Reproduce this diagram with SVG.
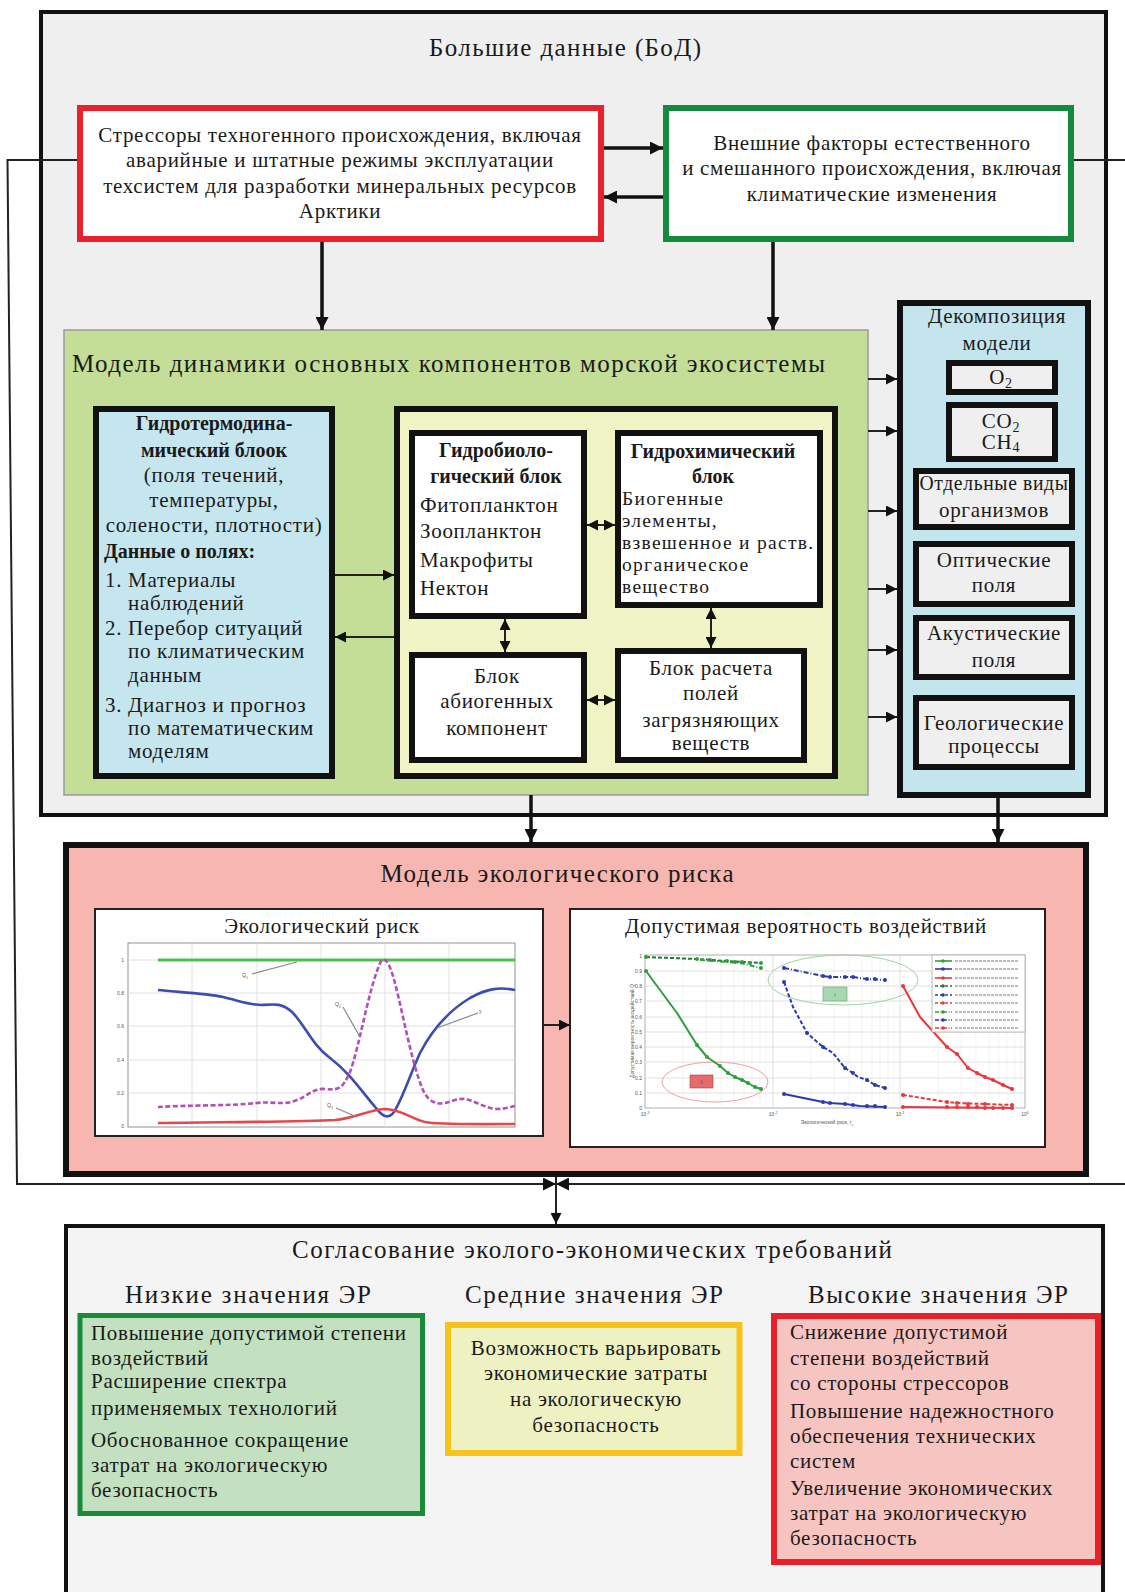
<svg xmlns="http://www.w3.org/2000/svg" width="1125" height="1592" viewBox="0 0 1125 1592">
<defs>
<style>
.t{font-family:"Liberation Serif","Times New Roman",serif;fill:#1a1a1a}
.s20{font-size:20px}.n{font-size:21px;letter-spacing:0.7px}.h{font-size:25px}
.c{font-size:19.5px;letter-spacing:1.3px}
.b{font-weight:bold}.m{text-anchor:middle}
.ln{stroke:#111;fill:none;stroke-width:3.5}
.thin{stroke:#222;fill:none;stroke-width:2}
.tiny{font-family:"Liberation Sans",Arial,sans-serif;font-size:5px;fill:#555}
.grid{stroke:#d8d8d8;stroke-width:0.8;fill:none}
.mgrid{stroke:#ececec;stroke-width:0.6;fill:none}
</style>
<marker id="ah" markerUnits="userSpaceOnUse" viewBox="0 0 12 12" refX="12" refY="6" markerWidth="13" markerHeight="13" orient="auto-start-reverse"><path d="M0,0 L12,6 L0,12 z" fill="#111"/></marker>
<marker id="ahs" markerUnits="userSpaceOnUse" viewBox="0 0 12 12" refX="12" refY="6" markerWidth="11" markerHeight="11" orient="auto-start-reverse"><path d="M0,0 L12,6 L0,12 z" fill="#111"/></marker>
</defs>

<g id="big-data">
<rect x="41" y="12" width="1065" height="803" fill="#efefef" stroke="#111" stroke-width="4"/>
<text class="t h m" x="565" y="56" textLength="272" lengthAdjust="spacing">Большие данные (БоД)</text>
</g>

<g id="stressors">
<rect x="80" y="108" width="521" height="131" fill="#fff" stroke="#e8212b" stroke-width="6"/>
<text class="t n m" x="340" y="142">Стрессоры техногенного происхождения, включая</text>
<text class="t n m" x="340" y="167">аварийные и штатные режимы эксплуатации</text>
<text class="t n m" x="340" y="193">техсистем для разработки минеральных ресурсов</text>
<text class="t n m" x="340" y="218">Арктики</text>
</g>

<g id="external">
<rect x="666" y="108" width="405" height="131" fill="#fff" stroke="#138a3c" stroke-width="6"/>
<text class="t n m" x="872" y="150">Внешние факторы естественного</text>
<text class="t n m" x="872" y="175">и смешанного происхождения, включая</text>
<text class="t n m" x="872" y="201">климатические изменения</text>
</g>

<g id="dynamics-model">
<rect x="64" y="330" width="804" height="465" fill="#c4de98" stroke="#9a9a9a" stroke-width="1.5"/>
<text class="t h" x="72" y="372" textLength="753" lengthAdjust="spacing">Модель динамики основных компонентов морской экосистемы</text>
</g>

<g id="hydrothermo">
<rect x="96" y="409" width="236" height="367" fill="#c5e6ef" stroke="#111" stroke-width="6"/>
<text class="t s20 b m" x="214" y="430">Гидротермодина-</text>
<text class="t s20 b m" x="214" y="457">мический блоок</text>
<text class="t n m" x="214" y="482">(поля течений,</text>
<text class="t n m" x="214" y="507">температуры,</text>
<text class="t n m" x="214" y="532">солености, плотности)</text>
<text class="t s20 b" x="104" y="558">Данные о полях:</text>
<text class="t n" x="105" y="587">1. Материалы</text>
<text class="t n" x="128" y="610">наблюдений</text>
<text class="t n" x="105" y="635">2. Перебор ситуаций</text>
<text class="t n" x="128" y="658">по климатическим</text>
<text class="t n" x="128" y="682">данным</text>
<text class="t n" x="105" y="712">3. Диагноз и прогноз</text>
<text class="t n" x="128" y="735">по математическим</text>
<text class="t n" x="128" y="758">моделям</text>
</g>

<g id="bio-chem-frame">
<rect x="397" y="409" width="438" height="367" fill="#f0f4c4" stroke="#111" stroke-width="6"/>
</g>

<g id="hydrobio">
<rect x="412" y="433" width="172" height="183" fill="#fff" stroke="#111" stroke-width="6"/>
<text class="t s20 b m" x="496" y="457">Гидробиоло-</text>
<text class="t s20 b m" x="496" y="483">гический блок</text>
<text class="t n" x="420" y="512">Фитопланктон</text>
<text class="t n" x="420" y="538">Зоопланктон</text>
<text class="t n" x="420" y="567">Макрофиты</text>
<text class="t n" x="420" y="595">Нектон</text>
</g>

<g id="hydrochem">
<rect x="618" y="433" width="202" height="172" fill="#fff" stroke="#111" stroke-width="6"/>
<text class="t s20 b m" x="713" y="458">Гидрохимический</text>
<text class="t s20 b m" x="713" y="483">блок</text>
<text class="t c" x="622" y="505">Биогенные</text>
<text class="t c" x="622" y="527">элементы,</text>
<text class="t c" x="622" y="549">взвешенное и раств.</text>
<text class="t c" x="622" y="571">органическое</text>
<text class="t c" x="622" y="593">вещество</text>
</g>

<g id="abiogenic">
<rect x="412" y="655" width="172" height="105" fill="#fff" stroke="#111" stroke-width="6"/>
<text class="t n m" x="497" y="683">Блок</text>
<text class="t n m" x="497" y="708">абиогенных</text>
<text class="t n m" x="497" y="735">компонент</text>
</g>

<g id="pollutants">
<rect x="618" y="651" width="186" height="109" fill="#fff" stroke="#111" stroke-width="6"/>
<text class="t n m" x="711" y="675">Блок расчета</text>
<text class="t n m" x="711" y="700">полей</text>
<text class="t n m" x="711" y="727">загрязняющих</text>
<text class="t n m" x="711" y="750">веществ</text>
</g>

<g id="decomposition">
<rect x="900" y="303" width="188" height="492" fill="#c4e5ee" stroke="#111" stroke-width="6"/>
<text class="t n m" x="997" y="323">Декомпозиция</text>
<text class="t n m" x="997" y="350">модели</text>
</g>
<g id="o2">
<rect x="949" y="363" width="106" height="29" fill="#efefef" stroke="#111" stroke-width="6"/>
<text class="t n m" x="1001" y="384">O<tspan font-size="14" dy="4">2</tspan></text>
</g>
<g id="co2-ch4">
<rect x="949" y="405" width="106" height="54" fill="#efefef" stroke="#111" stroke-width="6"/>
<text class="t n m" x="1001" y="428">CO<tspan font-size="14" dy="4">2</tspan></text>
<text class="t n m" x="1001" y="449">CH<tspan font-size="14" dy="3">4</tspan></text>
</g>
<g id="organisms">
<rect x="916" y="471" width="156" height="56" fill="#efefef" stroke="#111" stroke-width="6"/>
<text class="t n m" x="994" y="490" textLength="149" lengthAdjust="spacingAndGlyphs">Отдельные виды</text>
<text class="t n m" x="994" y="517">организмов</text>
</g>
<g id="optical">
<rect x="916" y="544" width="156" height="60" fill="#efefef" stroke="#111" stroke-width="6"/>
<text class="t n m" x="994" y="567">Оптические</text>
<text class="t n m" x="994" y="592">поля</text>
</g>
<g id="acoustic">
<rect x="916" y="618" width="156" height="59" fill="#efefef" stroke="#111" stroke-width="6"/>
<text class="t n m" x="994" y="640">Акустические</text>
<text class="t n m" x="994" y="667">поля</text>
</g>
<g id="geological">
<rect x="916" y="698" width="156" height="69" fill="#efefef" stroke="#111" stroke-width="6"/>
<text class="t n m" x="994" y="730">Геологические</text>
<text class="t n m" x="994" y="753">процессы</text>
</g>

<g id="risk-model">
<rect x="66" y="845" width="1020" height="329" fill="#f7b7b0" stroke="#111" stroke-width="6"/>
<text class="t h m" x="557" y="882" textLength="353" lengthAdjust="spacing">Модель экологического риска</text>
</g>

<g id="eco-risk-chart">
<rect x="95" y="909" width="448" height="227" fill="#fff" stroke="#222" stroke-width="2"/>
<text class="t n m" x="322" y="933">Экологический риск</text>
<rect x="128" y="943" width="387" height="184" fill="#fff" stroke="#777" stroke-width="0.8"/>
<path class="grid" d="M192,943V1127M257,943V1127M321,943V1127M385,943V1127M449,943V1127M128,960H515M128,993H515M128,1026H515M128,1060H515M128,1093H515"/>
<text class="tiny" x="124" y="962" text-anchor="end">1</text>
<text class="tiny" x="124" y="995" text-anchor="end">0.8</text>
<text class="tiny" x="124" y="1028" text-anchor="end">0.6</text>
<text class="tiny" x="124" y="1062" text-anchor="end">0.4</text>
<text class="tiny" x="124" y="1095" text-anchor="end">0.2</text>
<text class="tiny" x="124" y="1128" text-anchor="end">0</text>
<polyline points="158,960 515,960" fill="none" stroke="#4dbf4d" stroke-width="3"/>
<path d="M158,990 C175,992 205,993 223,997 C240,1001 250,1005 262,1005 C275,1004 282,1003 292,1012 C305,1025 312,1045 330,1058 C350,1073 362,1092 376,1108 C382,1116 388,1120 394,1112 C402,1100 410,1075 420,1053 C432,1030 450,1010 470,998 C488,988 500,987 515,990" fill="none" stroke="#3c4db0" stroke-width="2.6"/>
<path d="M158,1107 C190,1105 230,1106 257,1103 C272,1101 283,1106 297,1100 C308,1096 313,1088 325,1089 C338,1090 342,1090 350,1072 C360,1045 368,990 381,961 C385,958 387,960 391,970 C400,995 410,1060 423,1090 C430,1105 440,1106 455,1100 C470,1095 480,1108 497,1109 C505,1109 510,1107 515,1106" fill="none" stroke="#b24fb8" stroke-width="2.6" stroke-dasharray="5,2.5"/>
<path d="M158,1123 C230,1122 300,1122 335,1120 C355,1118 368,1110 385,1109 C400,1109 410,1118 425,1122 C440,1125 470,1124 515,1124" fill="none" stroke="#e8474a" stroke-width="2.6"/>
<path d="M252,974L297,962M343,1007L360,1037M478,1013L437,1028M336,1108L357,1117" stroke="#888" stroke-width="1.2" fill="none"/>
<text class="tiny" x="242" y="977">Q<tspan font-size="3.5" dy="1.5">1</tspan></text>
<text class="tiny" x="335" y="1006">Q<tspan font-size="3.5" dy="1.5">2</tspan></text>
<text class="tiny" x="479" y="1013">y</text>
<text class="tiny" x="327" y="1107">Q<tspan font-size="3.5" dy="1.5">3</tspan></text>
</g>

<g id="allowed-prob-chart">
<rect x="570" y="909" width="475" height="238" fill="#fff" stroke="#222" stroke-width="2"/>
<text class="t n m" x="806" y="933">Допустимая вероятность воздействий</text>
<rect x="645" y="955" width="380" height="153" fill="#fff" stroke="#999" stroke-width="0.8"/>
<path class="mgrid" d="M683,955V1108M706,955V1108M721,955V1108M734,955V1108M744,955V1108M752,955V1108M760,955V1108M766,955V1108M811,955V1108M834,955V1108M849,955V1108M862,955V1108M872,955V1108M880,955V1108M888,955V1108M894,955V1108M938,955V1108M961,955V1108M976,955V1108M989,955V1108M999,955V1108M1007,955V1108M1015,955V1108M1021,955V1108"/>
<path class="grid" d="M773,955V1108M900,955V1108M645,971H1025M645,986H1025M645,1001H1025M645,1017H1025M645,1032H1025M645,1047H1025M645,1062H1025M645,1078H1025M645,1093H1025"/>
<g class="tiny" text-anchor="end">
<text x="642" y="958">1</text><text x="642" y="973">0.9</text><text x="642" y="988">0.8</text><text x="642" y="1003">0.7</text><text x="642" y="1019">0.6</text><text x="642" y="1034">0.5</text><text x="642" y="1049">0.4</text><text x="642" y="1064">0.3</text><text x="642" y="1080">0.2</text><text x="642" y="1095">0.1</text><text x="642" y="1110">0</text>
</g>
<g class="tiny" text-anchor="middle">
<text x="645" y="1116">10<tspan font-size="3.5" dy="-2">-3</tspan></text>
<text x="773" y="1116">10<tspan font-size="3.5" dy="-2">-2</tspan></text>
<text x="900" y="1116">10<tspan font-size="3.5" dy="-2">-1</tspan></text>
<text x="1025" y="1116">10<tspan font-size="3.5" dy="-2">0</tspan></text>
<text x="827" y="1124">Экологический риск, r<tspan font-size="3.5" dy="1.5">э</tspan></text>
<text transform="translate(634,1031) rotate(-90)">Допустимая вероятность воздействий Q</text>
</g>
<ellipse cx="843" cy="980" rx="75" ry="25" fill="none" stroke="#9fd49f" stroke-width="1"/>
<ellipse cx="715" cy="1082" rx="53" ry="20" fill="none" stroke="#f0a0a0" stroke-width="1"/>
<rect x="823" y="987" width="24" height="14" fill="#a8d8b0" stroke="#6a9a70" stroke-width="0.6"/>
<text class="tiny" x="835" y="996.5" text-anchor="middle">I</text>
<rect x="690" y="1075" width="23" height="13" fill="#e86a6a" stroke="#a04040" stroke-width="0.6"/>
<text class="tiny" x="701.5" y="1084" text-anchor="middle">II</text>
<g fill="none" stroke-width="2" stroke-linejoin="round">
<polyline stroke="#2e9e3e" points="646,971 660,990 677,1013 697,1045 707,1057 720,1066 728,1073 735,1077 742,1080 748,1083 755,1087 761,1089"/>
<polyline stroke="#1f7a2e" stroke-dasharray="4,2" points="646,957 697,959 727,961 761,963"/>
<polyline stroke="#2e9e3e" stroke-dasharray="5,2,1,2" points="700,960 740,963 761,968"/>
<polyline stroke="#2a3caa" stroke-dasharray="4,2" points="784,982 793,1007 807,1033 823,1047 833,1053 845,1068 853,1073 858,1077 867,1080 875,1085 885,1088"/>
<polyline stroke="#2a3caa" stroke-dasharray="5,2,1,2" points="784,968 823,976 830,977 845,977 853,977 867,979 885,980"/>
<polyline stroke="#2a3caa" points="784,1094 823,1102 830,1103 845,1104 860,1106 885,1107"/>
<polyline stroke="#e8383c" points="903,986 920,1017 947,1047 957,1054 968,1068 977,1073 985,1077 993,1080 1003,1085 1012,1089"/>
<polyline stroke="#e8383c" stroke-dasharray="4,2" points="903,1095 947,1102 957,1103 1012,1105"/>
<polyline stroke="#e8383c" points="903,1107 1012,1108"/>
</g>
<g fill="#2e9e3e"><circle cx="646" cy="971" r="2"/><circle cx="697" cy="1045" r="2"/><circle cx="707" cy="1057" r="2"/><circle cx="720" cy="1066" r="2"/><circle cx="728" cy="1073" r="2"/><circle cx="735" cy="1077" r="2"/><circle cx="742" cy="1080" r="2"/><circle cx="748" cy="1083" r="2"/><circle cx="755" cy="1087" r="2"/><circle cx="761" cy="1089" r="2"/><circle cx="646" cy="957" r="2"/><circle cx="697" cy="959" r="2"/><circle cx="710" cy="960" r="2"/><circle cx="727" cy="961" r="2"/><circle cx="735" cy="962" r="2"/><circle cx="742" cy="962" r="2"/><circle cx="750" cy="963" r="2"/><circle cx="761" cy="963" r="2"/><circle cx="761" cy="968" r="2"/></g>
<g fill="#2a3caa"><circle cx="784" cy="982" r="2"/><circle cx="807" cy="1033" r="2"/><circle cx="823" cy="1047" r="2"/><circle cx="845" cy="1068" r="2"/><circle cx="853" cy="1073" r="2"/><circle cx="867" cy="1080" r="2"/><circle cx="875" cy="1085" r="2"/><circle cx="885" cy="1088" r="2"/><circle cx="784" cy="968" r="2"/><circle cx="823" cy="976" r="2"/><circle cx="830" cy="977" r="2"/><circle cx="845" cy="977" r="2"/><circle cx="853" cy="977" r="2"/><circle cx="867" cy="979" r="2"/><circle cx="875" cy="979" r="2"/><circle cx="885" cy="980" r="2"/><circle cx="784" cy="1094" r="2"/><circle cx="823" cy="1102" r="2"/><circle cx="830" cy="1103" r="2"/><circle cx="845" cy="1104" r="2"/><circle cx="853" cy="1105" r="2"/><circle cx="867" cy="1106" r="2"/><circle cx="875" cy="1106" r="2"/><circle cx="885" cy="1107" r="2"/></g>
<g fill="#e8383c"><circle cx="903" cy="986" r="2"/><circle cx="947" cy="1047" r="2"/><circle cx="957" cy="1054" r="2"/><circle cx="968" cy="1068" r="2"/><circle cx="977" cy="1073" r="2"/><circle cx="985" cy="1077" r="2"/><circle cx="993" cy="1080" r="2"/><circle cx="1003" cy="1085" r="2"/><circle cx="1012" cy="1089" r="2"/><circle cx="903" cy="1095" r="2"/><circle cx="947" cy="1102" r="2"/><circle cx="957" cy="1103" r="2"/><circle cx="968" cy="1104" r="2"/><circle cx="985" cy="1104" r="2"/><circle cx="1012" cy="1105" r="2"/><circle cx="903" cy="1107" r="2"/><circle cx="947" cy="1107" r="2"/><circle cx="957" cy="1107" r="2"/><circle cx="968" cy="1107" r="2"/><circle cx="977" cy="1107" r="2"/><circle cx="985" cy="1108" r="2"/><circle cx="993" cy="1108" r="2"/><circle cx="1003" cy="1108" r="2"/><circle cx="1012" cy="1108" r="2"/></g>
<rect x="932" y="955" width="93" height="77" fill="#fff" stroke="#aaa" stroke-width="0.8"/>
<g fill="none" stroke-width="1.6">
<path stroke="#2e9e3e" d="M935,961H952"/><path stroke="#2a3caa" d="M935,969H952"/><path stroke="#e8383c" d="M935,978H952"/>
<path stroke="#1f7a2e" stroke-dasharray="3,2" d="M935,986H952"/><path stroke="#2a3caa" stroke-dasharray="3,2" d="M935,995H952"/><path stroke="#e8383c" stroke-dasharray="3,2" d="M935,1003H952"/>
<path stroke="#2e9e3e" stroke-dasharray="4,1.5,1,1.5" d="M935,1012H952"/><path stroke="#2a3caa" stroke-dasharray="4,1.5,1,1.5" d="M935,1020H952"/><path stroke="#e8383c" stroke-dasharray="4,1.5,1,1.5" d="M935,1028H952"/>
</g>
<g><circle cx="943" cy="961" r="1.8" fill="#2e9e3e"/><circle cx="943" cy="969" r="1.8" fill="#2a3caa"/><circle cx="943" cy="978" r="1.8" fill="#e8383c"/><circle cx="943" cy="986" r="1.8" fill="#1f7a2e"/><circle cx="943" cy="995" r="1.8" fill="#2a3caa"/><circle cx="943" cy="1003" r="1.8" fill="#e8383c"/><circle cx="943" cy="1012" r="1.8" fill="#2e9e3e"/><circle cx="943" cy="1020" r="1.8" fill="#2a3caa"/><circle cx="943" cy="1028" r="1.8" fill="#e8383c"/></g>
<path d="M955,961H1018M955,969H1018M955,978H1018M955,986H1018M955,995H1018M955,1003H1018M955,1012H1018M955,1020H1018M955,1028H1018" stroke="#bbb" stroke-width="2" stroke-dasharray="3,1" fill="none"/>
</g>

<g id="coordination">
<rect x="66" y="1226" width="1037" height="400" fill="#f4f4f4" stroke="#111" stroke-width="4"/>
<text class="t h m" x="592" y="1258" textLength="600" lengthAdjust="spacing">Согласование эколого-экономических требований</text>
<text class="t h m" x="248" y="1303" textLength="246" lengthAdjust="spacing">Низкие значения ЭР</text>
<text class="t h m" x="594" y="1303" textLength="258" lengthAdjust="spacing">Средние значения ЭР</text>
<text class="t h m" x="938" y="1303" textLength="260" lengthAdjust="spacing">Высокие значения ЭР</text>
</g>

<g id="low-er">
<rect x="80" y="1315.5" width="342.5" height="198" fill="#c3e1c0" stroke="#1a8b3a" stroke-width="5"/>
<text class="t n" x="91" y="1340">Повышение допустимой степени</text>
<text class="t n" x="91" y="1365">воздействий</text>
<text class="t n" x="91" y="1388">Расширение спектра</text>
<text class="t n" x="91" y="1415">применяемых технологий</text>
<text class="t n" x="91" y="1447">Обоснованное сокращение</text>
<text class="t n" x="91" y="1472">затрат на экологическую</text>
<text class="t n" x="91" y="1497">безопасность</text>
</g>

<g id="mid-er">
<rect x="448" y="1325" width="291.5" height="128" fill="#eef1c2" stroke="#f7c31c" stroke-width="6"/>
<text class="t n m" x="596" y="1355">Возможность варьировать</text>
<text class="t n m" x="596" y="1380">экономические затраты</text>
<text class="t n m" x="596" y="1406">на экологическую</text>
<text class="t n m" x="596" y="1432">безопасность</text>
</g>

<g id="high-er">
<rect x="774" y="1316" width="324" height="246" fill="#f7c5c1" stroke="#e8202a" stroke-width="6"/>
<text class="t n" x="790" y="1339">Снижение допустимой</text>
<text class="t n" x="790" y="1365">степени воздействий</text>
<text class="t n" x="790" y="1390">со стороны стрессоров</text>
<text class="t n" x="790" y="1418">Повышение надежностного</text>
<text class="t n" x="790" y="1443">обеспечения технических</text>
<text class="t n" x="790" y="1468">систем</text>
<text class="t n" x="790" y="1495">Увеличение экономических</text>
<text class="t n" x="790" y="1520">затрат на экологическую</text>
<text class="t n" x="790" y="1545">безопасность</text>
</g>

<g id="connectors">
<path class="ln" d="M604,148H663" marker-end="url(#ah)"/>
<path class="ln" d="M663,197H604" marker-end="url(#ah)"/>
<path class="ln" d="M322,242V330" marker-end="url(#ah)"/>
<path class="ln" d="M773,242V330" marker-end="url(#ah)"/>
<path class="thin" d="M335,575H394" marker-end="url(#ahs)"/>
<path class="thin" d="M394,637H335" marker-end="url(#ahs)"/>
<path class="thin" d="M587,525H615" marker-start="url(#ahs)" marker-end="url(#ahs)"/>
<path class="thin" d="M587,700H615" marker-start="url(#ahs)" marker-end="url(#ahs)"/>
<path class="thin" d="M505,619V652" marker-start="url(#ahs)" marker-end="url(#ahs)"/>
<path class="thin" d="M711,608V648" marker-start="url(#ahs)" marker-end="url(#ahs)"/>
<path class="thin" d="M868,379H897" marker-end="url(#ahs)"/>
<path class="thin" d="M868,431H897" marker-end="url(#ahs)"/>
<path class="thin" d="M868,511H897" marker-end="url(#ahs)"/>
<path class="thin" d="M868,589H897" marker-end="url(#ahs)"/>
<path class="thin" d="M868,650H897" marker-end="url(#ahs)"/>
<path class="thin" d="M868,717H897" marker-end="url(#ahs)"/>
<path class="ln" d="M531,795V842" marker-end="url(#ah)"/>
<path class="ln" d="M998,797V842" marker-end="url(#ah)"/>
<path class="thin" d="M544,1025H570" marker-end="url(#ahs)"/>
<path d="M77,160H7.5L17,1184H556" stroke="#222" stroke-width="2" fill="none" marker-end="url(#ah)"/>
<path d="M1074,160H1128V1184H556" stroke="#222" stroke-width="2" fill="none" marker-end="url(#ah)"/>
<path class="thin" d="M556,1177V1224" marker-end="url(#ahs)"/>
</g>
</svg>
